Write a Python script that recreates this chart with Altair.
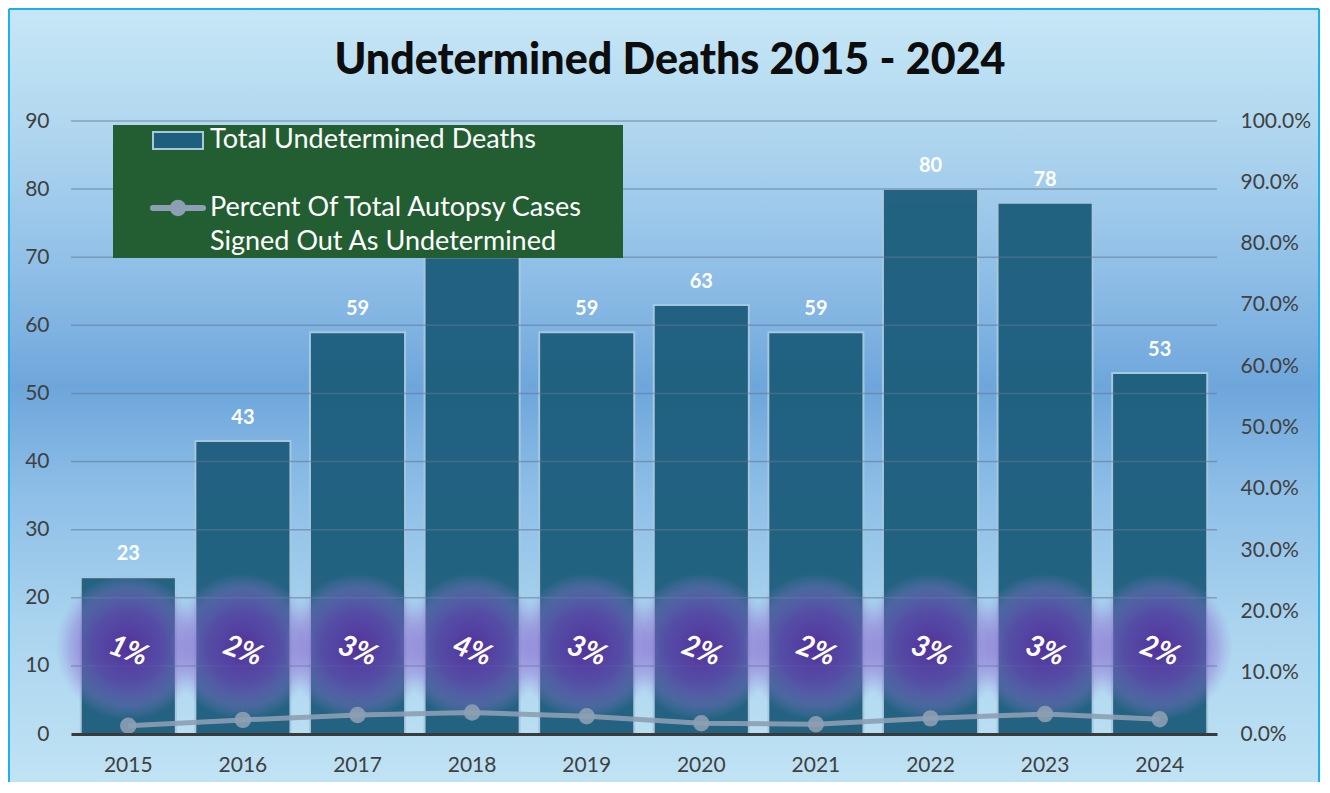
import altair as alt
import pandas as pd

years = ["2015", "2016", "2017", "2018", "2019", "2020", "2021", "2022", "2023", "2024"]
deaths = [23, 43, 59, 70, 59, 63, 59, 80, 78, 53]
pct = [0.0135, 0.023, 0.031, 0.035, 0.029, 0.0175, 0.016, 0.0255, 0.0325, 0.024]
pct_labels = ["1%", "2%", "3%", "4%", "3%", "2%", "2%", "3%", "3%", "2%"]
grid_vals = [10, 20, 30, 40, 50, 60, 70, 80, 90]
left_ticks = [0, 10, 20, 30, 40, 50, 60, 70, 80, 90]
right_ticks = [0.0, 0.1, 0.2, 0.3, 0.4, 0.5, 0.6, 0.7, 0.8, 0.9, 1.0]

title_text = "Undetermined Deaths 2015 - 2024"
legend_bar = "Total Undetermined Deaths"
legend_line = ["Percent Of Total Autopsy Cases", "Signed Out As Undetermined"]

df = pd.DataFrame({"year": years, "deaths": deaths, "pct": pct, "plabel": pct_labels})
gdf = pd.DataFrame({"g": grid_vals})
one = pd.DataFrame({"a": [0]})

W, H = 1146, 613
FONT = "Lato"
TXT = "#404040"
BAR = "#1f5f7e"
BAR_STROKE = "#a9c8de"
LINE = "#8d9fb3"

xenc = alt.X("year:N", title=None,
             scale=alt.Scale(paddingInner=0.17, paddingOuter=0.085),
             axis=alt.Axis(labelAngle=0, labelFont=FONT, labelFontSize=21, labelColor=TXT,
                           labelPadding=20, ticks=False, domainColor="#3a3a3a",
                           domainWidth=3, grid=False, zindex=1))
yscale = alt.Scale(domain=[0, 90], nice=False, zero=True)

bg = alt.Chart(one).mark_rect(
    fill=alt.LinearGradient(gradient="linear", x1=0, y1=0, x2=0, y2=1, stops=[
        alt.GradientStop(offset=0, color="#c6e7f6"),
        alt.GradientStop(offset=0.14, color="#b3d9f0"),
        alt.GradientStop(offset=0.35, color="#8dbde6"),
        alt.GradientStop(offset=0.49, color="#6ea6db"),
        alt.GradientStop(offset=0.63, color="#8ebfe7"),
        alt.GradientStop(offset=0.8, color="#aad4ef"),
        alt.GradientStop(offset=1, color="#c0e3f4"),
    ])
).encode(x=alt.value(-63), x2=alt.value(W + 103), y=alt.value(-113), y2=alt.value(H + 48))

border = alt.Chart(pd.DataFrame({"x": [-62, -62, W + 102], "x2": [-62, W + 102, W + 102],
                                 "y": [-112, -112, -112], "y2": [H + 48, -112, H + 48]})).mark_rule(
    color="#1db1ec", strokeWidth=2
).encode(x=alt.X("x:Q", scale=None), x2="x2:Q", y=alt.Y("y:Q", scale=None), y2="y2:Q")

bars = alt.Chart(df).mark_bar(color=BAR, stroke=BAR_STROKE, strokeWidth=2, opacity=0.97).encode(
    x=xenc,
    y=alt.Y("deaths:Q", title=None, scale=yscale,
            axis=alt.Axis(values=left_ticks, labelFont=FONT, labelFontSize=21, labelColor=TXT,
                          labelPadding=22, ticks=False, domain=False, grid=False, zindex=1)),
)

grid = alt.Chart(gdf).mark_rule(color="#5e7890", strokeWidth=1.5, opacity=0.55).encode(
    y=alt.Y("g:Q", title=None), x=alt.value(0), x2=alt.value(W))

glow = alt.Chart(df).mark_circle(
    size=146 * 146, opacity=1,
    fill=alt.RadialGradient(gradient="radial", x1=0.5, y1=0.5, r1=0, x2=0.5, y2=0.5, r2=0.5, stops=[
        alt.GradientStop(offset=0, color="rgba(92,38,160,0.82)"),
        alt.GradientStop(offset=0.5, color="rgba(112,66,186,0.64)"),
        alt.GradientStop(offset=0.8, color="rgba(140,110,210,0.38)"),
        alt.GradientStop(offset=1, color="rgba(160,140,225,0)"),
    ])
).encode(x="year:N", y=alt.value(526))

bar_labels = alt.Chart(df).mark_text(font=FONT, fontSize=20, fontWeight="bold", color="white",
                                     baseline="bottom", dy=-13).encode(
    x="year:N", y=alt.Y("deaths:Q", title=None), text="deaths:Q")

pct_text = alt.Chart(df).mark_text(font=FONT, fontSize=29, fontWeight="bold", fontStyle="italic",
                                   color="white", angle=20, baseline="middle").encode(
    x="year:N", y=alt.value(530), text="plabel:N")

left = alt.layer(bg, border, bars, grid, glow, bar_labels, pct_text)

line = alt.Chart(df).mark_line(color=LINE, strokeWidth=5, opacity=0.9).encode(
    x="year:N",
    y=alt.Y("pct:Q", title=None, scale=alt.Scale(domain=[0, 1], nice=False),
            axis=alt.Axis(orient="right", values=right_ticks, format=".1%", labelFont=FONT,
                          labelFontSize=21, labelColor=TXT, labelPadding=23, ticks=False,
                          domain=False, grid=False, zindex=1)))
pts = alt.Chart(df).mark_circle(color=LINE, size=270, opacity=0.9).encode(
    x="year:N", y=alt.Y("pct:Q", title=None))
right = alt.layer(line, pts)

title = alt.Chart(one).mark_text(text=title_text, font=FONT, fontSize=43, fontWeight=900,
                                 color="#0d0d0d", baseline="middle").encode(
    x=alt.value(599), y=alt.value(-60))

leg_box = alt.Chart(one).mark_rect(color="#235e33").encode(
    x=alt.value(42), x2=alt.value(552), y=alt.value(4), y2=alt.value(137))
leg_bar = alt.Chart(one).mark_rect(color=BAR, stroke=BAR_STROKE, strokeWidth=2).encode(
    x=alt.value(82), x2=alt.value(132), y=alt.value(11), y2=alt.value(28))
leg_line = alt.Chart(one).mark_rule(color=LINE, strokeWidth=6, strokeCap="round").encode(
    x=alt.value(82), x2=alt.value(132), y=alt.value(87))
leg_pt = alt.Chart(one).mark_circle(color=LINE, size=270, opacity=1).encode(
    x=alt.value(107), y=alt.value(87))
leg_t1 = alt.Chart(one).mark_text(text=legend_bar, font=FONT, fontSize=27, color="white",
                                  align="left", baseline="middle").encode(x=alt.value(139), y=alt.value(19))
leg_t2 = alt.Chart(one).mark_text(text=legend_line[0], font=FONT, fontSize=27, color="white",
                                  align="left", baseline="middle").encode(x=alt.value(139), y=alt.value(87))
leg_t3 = alt.Chart(one).mark_text(text=legend_line[1], font=FONT, fontSize=27, color="white",
                                  align="left", baseline="middle").encode(x=alt.value(139), y=alt.value(121))
legend = alt.layer(title, leg_box, leg_bar, leg_line, leg_pt, leg_t1, leg_t2, leg_t3)

chart = alt.layer(left, right, legend).resolve_scale(y="independent").properties(
    width=W, height=H, padding=0
).configure_view(stroke=None).configure(background="white")

chart.save("out.html", embed_options={"renderer": "svg", "actions": False})
